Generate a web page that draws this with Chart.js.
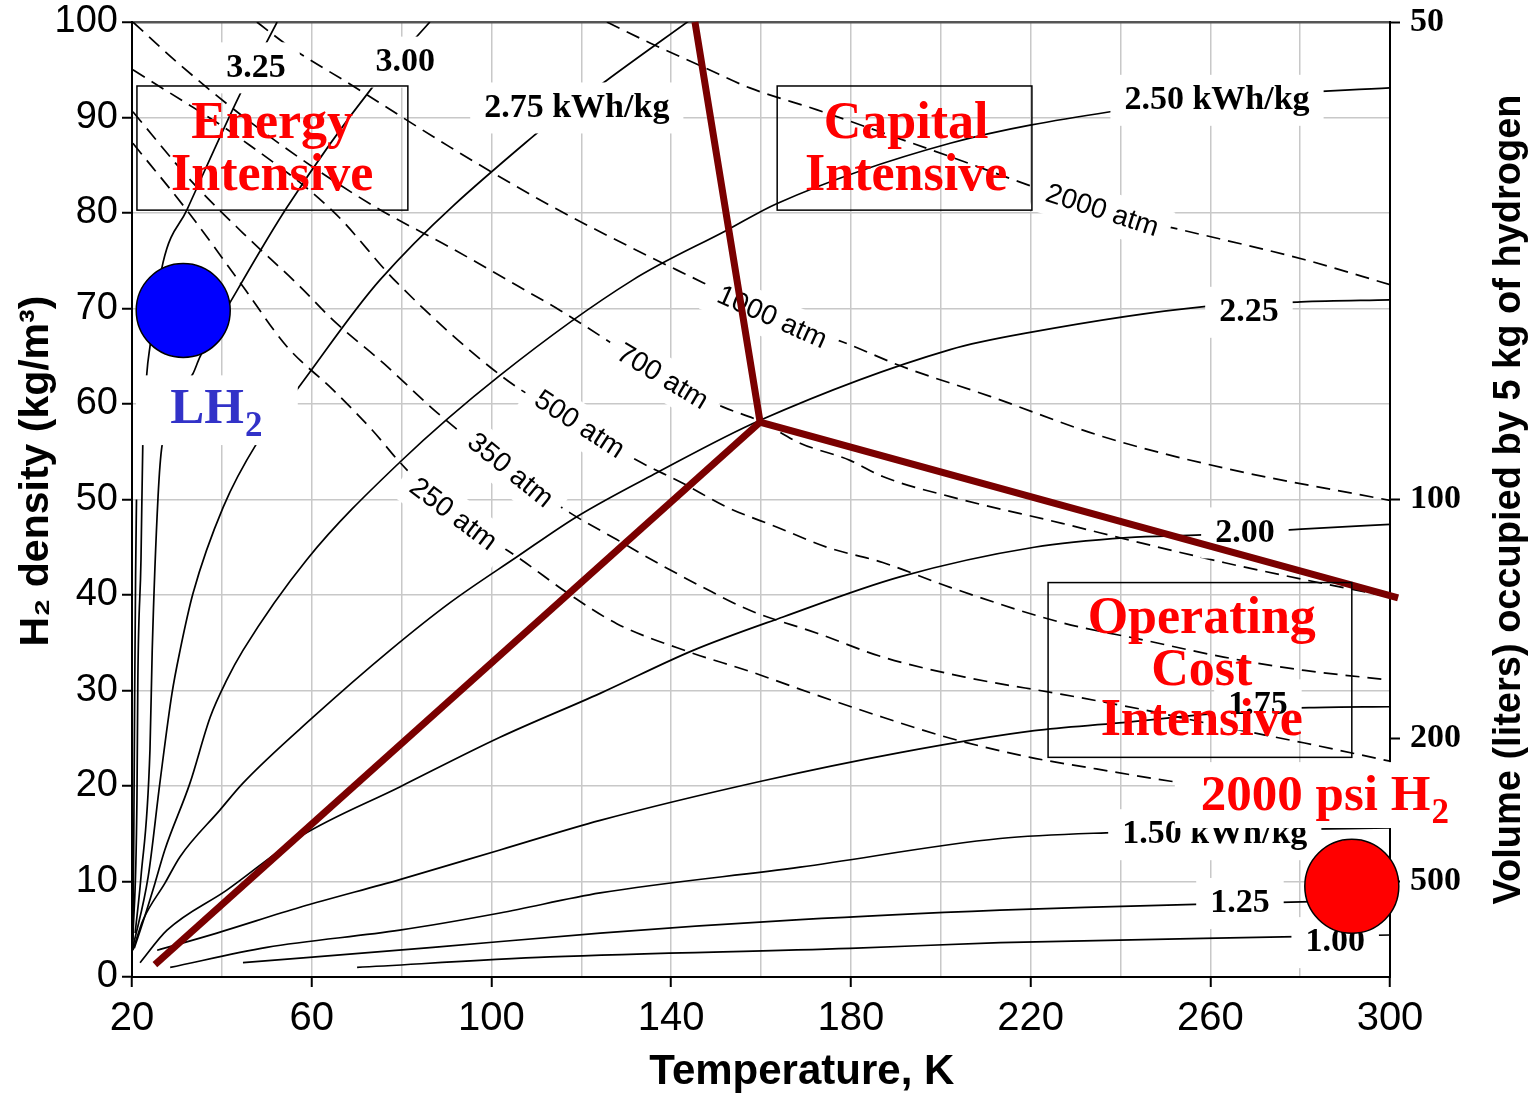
<!DOCTYPE html>
<html>
<head>
<meta charset="utf-8">
<title>Hydrogen storage: density vs temperature</title>
<script src="https://cdn.jsdelivr.net/npm/chart.js@4.4.1/dist/chart.umd.min.js"></script>
<style>
  body { margin: 0; background: #fff; }
  canvas { display: block; }
</style>
</head>
<body>
<canvas id="myChart" width="1533" height="1098"></canvas>
<script>
// tick labels
const tempLabels = [20, 60, 100, 140, 180, 220, 260, 300];
const volumeLabels = [50, 100, 200, 500];   // liters for 5 kg
const volumeAt = [100, 50, 25, 10];         // density (kg/m3) where each volume sits

// energy contours (kWh/kg), points are [temperature K, density kg/m3]
const kwh350 = [[20.2, 3], [20.4, 15], [20.6, 30], [20.8, 42], [21.0, 50]];
const kwh325 = [[20.2, 3.9], [21.1, 18.5], [21.3, 31.1], [22.0, 43.7], [22.4, 55.7], [23.3, 63.2], [24.0, 66.0], [26.9, 74.8], [32.2, 80.3], [44.0, 92.4], [52.3, 100]];
const kwh300 = [[20.7, 4.6], [22.0, 10.5], [24.0, 23.8], [24.5, 34.2], [25.8, 50.3], [26.7, 55.7], [33.6, 63.2], [35.1, 64.9], [43.4, 71.9], [54.5, 80.6], [73.4, 93.1], [86.3, 100]];
const kwh275 = [[20.2, 3.1], [23.6, 10.5], [26.2, 20.3], [28.9, 29.7], [30.7, 34.2], [33.6, 40.2], [40.3, 49.2], [47.8, 55.9], [56.7, 61.5], [75.2, 73.0], [109.2, 88.0], [125.7, 93.9], [144.2, 100.2]];
const kwh250 = [[20.5, 3.0], [22.4, 5.7], [25.1, 9.8], [27.3, 13.3], [32.9, 20.3], [37.4, 27.2], [41.1, 31.1], [44.7, 34.2], [58.9, 43.7], [79.6, 53.9], [101.9, 63.0], [131.5, 73.0], [152.4, 78.2], [163.6, 81.0], [202.1, 87.3], [237.7, 90.6], [270, 92.3], [300, 93.1]];
const kwh225 = [[20.2, 2.8], [22.5, 6.0], [27.3, 9.8], [30.7, 12.6], [39.6, 17.5], [44.7, 20.3], [60.3, 27.2], [77.4, 34.2], [90.8, 39.2], [105.7, 44.0], [119.0, 48.2], [136.8, 52.8], [159.8, 58.3], [202.1, 65.7], [219.9, 67.5], [258.6, 70.2], [280.2, 70.7], [300, 70.9]];
const kwh200 = [[21.8, 1.5], [27.8, 4.9], [41.1, 9.1], [57.4, 14.7], [79.6, 19.9], [101.9, 25.1], [124.2, 29.7], [144.9, 34.2], [164.9, 37.7], [190.9, 41.9], [220.8, 45.0], [241.5, 46.0], [258.1, 46.3], [280.2, 46.9], [300, 47.4]];
const kwh175 = [[25.6, 2.8], [38.9, 4.6], [57.4, 7.3], [79.6, 10.2], [101.9, 13.3], [124.2, 16.4], [160.0, 20.5], [190.9, 23.5], [220.8, 25.8], [239.7, 26.6], [261.3, 27.6], [282.0, 28.2], [300, 28.3]];
const kwh150 = [[28.5, 1.0], [50.0, 3.1], [79.6, 4.9], [101.9, 6.7], [124.2, 8.8], [168.7, 11.5], [213.2, 14.5], [236.8, 15.1], [270, 15.4], [300, 15.6]];
const kwh125 = [[44.7, 1.5], [87.0, 3.1], [124.2, 4.6], [168.7, 6.0], [213.2, 7.0], [232.1, 7.3], [256.6, 7.6], [300, 8.1]];
const kwh100 = [[70.1, 1.0], [113.0, 2.1], [179.8, 3.0], [213.2, 3.6], [276.2, 4.2], [300, 4.4]];

// isobars (atm)
const atm250 = [[20.2, 87.3], [32.2, 80.3], [44.7, 72.3], [54.5, 66.0], [64.7, 61.5], [73.6, 57.2], [79.6, 53.9], [91.4, 48.4], [105.7, 44.0], [118.2, 39.8], [127.9, 37.0], [144.2, 34.0], [157.5, 32.0], [172.5, 29.5], [187.1, 27.2], [202.1, 25.0], [219.9, 23.0], [233.2, 21.9], [251.2, 20.5], [275, 18.9], [300, 17.5]];
const atm350 = [[20.2, 90.6], [32.9, 83.5], [44.7, 77.9], [57.4, 72.3], [64.7, 68.8], [75.9, 64.3], [87.9, 59.1], [104.1, 53.0], [117.5, 48.6], [127.9, 45.8], [136.8, 43.4], [147.1, 40.8], [157.5, 38.4], [172.5, 36.0], [187.1, 33.5], [205.4, 31.4], [227, 29.6], [245, 28.0], [263, 26.2], [281, 24.5], [300, 22.6]];
const atm500 = [[20.2, 95.0], [44.7, 87.6], [64.7, 80.2], [79.0, 72.7], [102.6, 62.8], [119.5, 57.8], [132.4, 54.1], [142.6, 51.7], [152.4, 49.2], [163.6, 47.1], [174.7, 45.0], [187.1, 43.4], [202.1, 40.8], [227, 37.1], [245, 35.3], [263, 33.5], [281, 32.1], [300, 31.1]];
const atm700 = [[20.2, 100], [30, 95.8], [45, 90.0], [60, 84.9], [75, 80.4], [90.8, 76.4], [105.7, 72.4], [115.3, 69.8], [127.9, 66.0], [138.0, 62.8], [151.5, 59.7], [159.8, 58.2], [168.7, 55.9], [179.8, 54.1], [187.1, 52.4], [202.1, 50.3], [227, 47.5], [245, 45.4], [263, 43.4], [281, 41.6], [300, 39.8]];
const atm1000 = [[47.8, 100], [54.5, 97.6], [69.2, 93.3], [90.8, 86.9], [113.0, 80.8], [135.3, 75.4], [147.1, 72.7], [162.4, 69.0], [178.2, 66.5], [191, 64.0], [211, 60.8], [236, 56.6], [263, 53.3], [300, 49.9]];
const atm2000 = [[125.7, 100], [135.3, 97.8], [147.1, 95.3], [157.5, 93.1], [172.5, 90.8], [187.1, 88.4], [202.1, 85.9], [220.8, 82.7], [235.9, 80.2], [253.9, 78.2], [281.1, 75.1], [300, 72.5]];

// region dividers
const dividerUpper = [[145.3, 100], [159.8, 58.1], [301.8, 39.7]];
const dividerLower = [[25.1, 1.3], [159.8, 58.1]];

// storage points
const lh2Point = [31.4, 69.8];
const gasPoint = [291.5, 9.5];

// curve labels [text, T, density] and [text, T, density, angle]
const kwhLabels = [
  ['3.25', 47.6, 95.2], ['3.00', 80.8, 95.8], ['2.75 kWh/kg', 119.0, 91.0],
  ['2.50 kWh/kg', 261.5, 91.8], ['2.25', 268.6, 69.6], ['2.00', 267.7, 46.5],
  ['1.75', 270.6, 28.5], ['1.50 kWh/kg', 261.0, 14.9], ['1.25', 266.6, 7.7], ['1.00', 287.8, 3.6]
];
const atmLabels = [
  ['250 atm', 91.4, 48.4, 37], ['350 atm', 104.1, 53.0, 39], ['500 atm', 119.5, 57.8, 33],
  ['700 atm', 138.0, 62.8, 31], ['1000 atm', 162.4, 69.0, 24], ['2000 atm', 235.9, 80.2, 18]
];

const regionBoxes = [
  { lines: ['Energy', 'Intensive'], t0: 21.1, t1: 81.4, r0: 93.3, r1: 80.3, tc: 51.2, base: [87.9, 82.4] },
  { lines: ['Capital', 'Intensive'], t0: 163.6, t1: 220.3, r0: 93.3, r1: 80.3, tc: 192.3, base: [87.9, 82.4] },
  { lines: ['Operating', 'Cost', 'Intensive'], t0: 223.9, t1: 291.5, r0: 41.3, r1: 23.0, tc: 258.1, base: [36.0, 30.6, 25.3] }
];

const sans = "'Liberation Sans', Arial, sans-serif";
const serif = "'Liberation Serif', 'Times New Roman', serif";

function toPoints(list) {
  return list.map(p => ({ x: p[0], y: p[1] }));
}

function px(chart, t, rho) {
  return [chart.scales.x.getPixelForValue(t), chart.scales.y.getPixelForValue(rho)];
}

// fixed axis sizes so the plot area sits where the original does
function fixSize(prop, size) {
  return s => {
    s[prop] = size;
    s.paddingTop = 0; s.paddingBottom = 0; s.paddingLeft = 0; s.paddingRight = 0;
  };
}

// text with white box behind it
function tag(c, text, x, y, font, size, angle, pad) {
  c.save();
  c.translate(x, y);
  c.rotate(angle * Math.PI / 180);
  c.font = font;
  const w = c.measureText(text).width;
  c.fillStyle = '#fff';
  c.fillRect(-w / 2 - pad, -size * 0.75, w + pad * 2, size * 1.5);
  c.fillStyle = '#000';
  c.textAlign = 'center';
  c.textBaseline = 'middle';
  c.fillText(text, 0, 0);
  c.restore();
}

function subLabel(c, chart, main, sub, t, rho, color, box) {
  const [bx0, by0] = px(chart, box[0], box[1]);
  const [bx1, by1] = px(chart, box[2], box[3]);
  c.fillStyle = '#fff';
  c.fillRect(bx0, by0, bx1 - bx0, by1 - by0);
  const [x, y] = px(chart, t, rho);
  c.fillStyle = color;
  c.textAlign = 'left';
  c.textBaseline = 'alphabetic';
  c.font = 'bold 51px ' + serif;
  c.fillText(main, x, y);
  const w = c.measureText(main).width;
  c.font = 'bold 35px ' + serif;
  c.fillText(sub, x + w + 1, y + 13);
}

let labelsDone = false;
const overlay = {
  id: 'overlay',
  beforeDatasetsDraw() { labelsDone = false; },
  beforeDatasetDraw(chart, args) {
    if (labelsDone || !chart.data.datasets[args.index].divider) return;
    labelsDone = true;
    const c = chart.ctx;
    kwhLabels.forEach(l => {
      const [x, y] = px(chart, l[1], l[2]);
      tag(c, l[0], x, y, 'bold 34px ' + serif, 34, 0, 14);
    });
    atmLabels.forEach(l => {
      const [x, y] = px(chart, l[1], l[2]);
      tag(c, l[0], x, y, '28px ' + sans, 28, l[3], 12);
    });
  },
  afterDatasetsDraw(chart) {
    const c = chart.ctx;
    c.save();
    regionBoxes.forEach(b => {
      const [x0, y0] = px(chart, b.t0, b.r0);
      const [x1, y1] = px(chart, b.t1, b.r1);
      c.strokeStyle = '#000';
      c.lineWidth = 1.5;
      c.strokeRect(x0, y0, x1 - x0, y1 - y0);
      c.fillStyle = '#ff0000';
      c.font = 'bold 52px ' + serif;
      c.textAlign = 'center';
      c.textBaseline = 'alphabetic';
      b.lines.forEach((s, i) => {
        const [x, y] = px(chart, b.tc, b.base[i]);
        c.fillText(s, x, y);
      });
    });
    subLabel(c, chart, 'LH', '2', 28.5, 58.0, '#3232c8', [20.9, 63.0, 56.9, 55.7]);
    subLabel(c, chart, '2000 psi H', '2', 257.9, 17.5, '#ff0000', [252.1, 22.5, 316.0, 15.6]);
    c.restore();
  },
  afterDraw(chart) {
    // right axis title reads bottom to top
    const c = chart.ctx;
    c.save();
    c.translate(1510, (chart.chartArea.top + chart.chartArea.bottom) / 2);
    c.rotate(-Math.PI / 2);
    c.font = 'bold 38px ' + sans;
    c.fillStyle = '#000';
    c.textAlign = 'center';
    c.textBaseline = 'middle';
    c.fillText('Volume (liters) occupied by 5 kg of hydrogen', 0, 0);
    c.restore();
  }
};

const solidSets = [kwh350, kwh325, kwh300, kwh275, kwh250, kwh225, kwh200, kwh175, kwh150, kwh125, kwh100].map(c => ({
  data: toPoints(c),
  showLine: true,
  borderColor: '#000',
  borderWidth: 1.7,
  pointRadius: 0,
  cubicInterpolationMode: 'monotone',
  order: 3
}));

const dashedSets = [atm250, atm350, atm500, atm700, atm1000, atm2000].map(c => ({
  data: toPoints(c),
  showLine: true,
  borderColor: '#000',
  borderWidth: 1.7,
  borderDash: [14, 8],
  pointRadius: 0,
  cubicInterpolationMode: 'monotone',
  order: 3
}));

const dividerSets = [dividerUpper, dividerLower].map(c => ({
  data: toPoints(c),
  showLine: true,
  divider: true,
  borderColor: '#7a0000',
  borderWidth: 7,
  borderJoinStyle: 'miter',
  pointRadius: 0,
  tension: 0,
  clip: false,
  order: 2
}));

const pointSets = [
  { type: 'bubble', data: [{ x: lh2Point[0], y: lh2Point[1], r: 47 }], backgroundColor: '#0000ff', borderColor: '#000', borderWidth: 1.5, clip: false, order: 1 },
  { type: 'bubble', data: [{ x: gasPoint[0], y: gasPoint[1], r: 47 }], backgroundColor: '#ff0000', borderColor: '#000', borderWidth: 1.5, clip: false, order: 1 }
];

const ctx = document.getElementById('myChart').getContext('2d');
const myChart = new Chart(ctx, {
  type: 'scatter',
  data: { datasets: [...solidSets, ...dashedSets, ...dividerSets, ...pointSets] },
  options: {
    responsive: false,
    animation: false,
    events: [],
    layout: { autoPadding: false, padding: { top: 22, left: 0, right: 0, bottom: 0 } },
    plugins: { legend: { display: false }, tooltip: { enabled: false } },
    scales: {
      x: {
        type: 'linear', min: 20, max: 300,
        ticks: {
          stepSize: 20, autoSkip: false, maxRotation: 0, padding: 8, color: '#000',
          font: { family: sans, size: 40 },
          callback: v => tempLabels.includes(v) ? String(v) : ''
        },
        grid: {
          color: '#c8c8c8', lineWidth: 1.5, tickLength: 10, tickWidth: 2,
          tickColor: c => tempLabels.includes(c.tick.value) ? '#000' : 'rgba(0,0,0,0)'
        },
        border: { color: '#000', width: 2 },
        title: { display: true, text: '       Temperature, K', color: '#000', font: { family: sans, size: 42, weight: 'bold' }, padding: { top: 0, bottom: 0 } },
        afterFit: fixSize('height', 121)
      },
      y: {
        type: 'linear', min: 0, max: 100,
        ticks: { stepSize: 10, padding: 4, color: '#000', font: { family: sans, size: 38 } },
        grid: {
          color: c => c.tick.value === 100 ? '#555' : '#c8c8c8',
          lineWidth: c => c.tick.value === 100 ? 2.5 : 1.5,
          tickLength: 10, tickColor: '#000', tickWidth: 2
        },
        border: { color: '#000', width: 2 },
        title: { display: true, text: '     H\u2082 density (kg/m\u00b3)', color: '#000', font: { family: sans, size: 41, weight: 'bold' }, padding: { top: 12, bottom: 0 } },
        afterFit: fixSize('width', 132)
      },
      y2: {
        type: 'linear', position: 'right', min: 0, max: 100,
        afterBuildTicks: s => { s.ticks = volumeAt.map(v => ({ value: v })); },
        ticks: {
          autoSkip: false, padding: 10, color: '#000',
          font: { family: serif, size: 34, weight: 'bold' },
          callback: (v, i) => String(volumeLabels[i])
        },
        grid: { drawOnChartArea: false, tickLength: 10, tickColor: '#000', tickWidth: 2 },
        border: { color: '#000', width: 2 },
        afterFit: fixSize('width', 143)
      }
    }
  },
  plugins: [overlay]
});
</script>
</body>
</html>
